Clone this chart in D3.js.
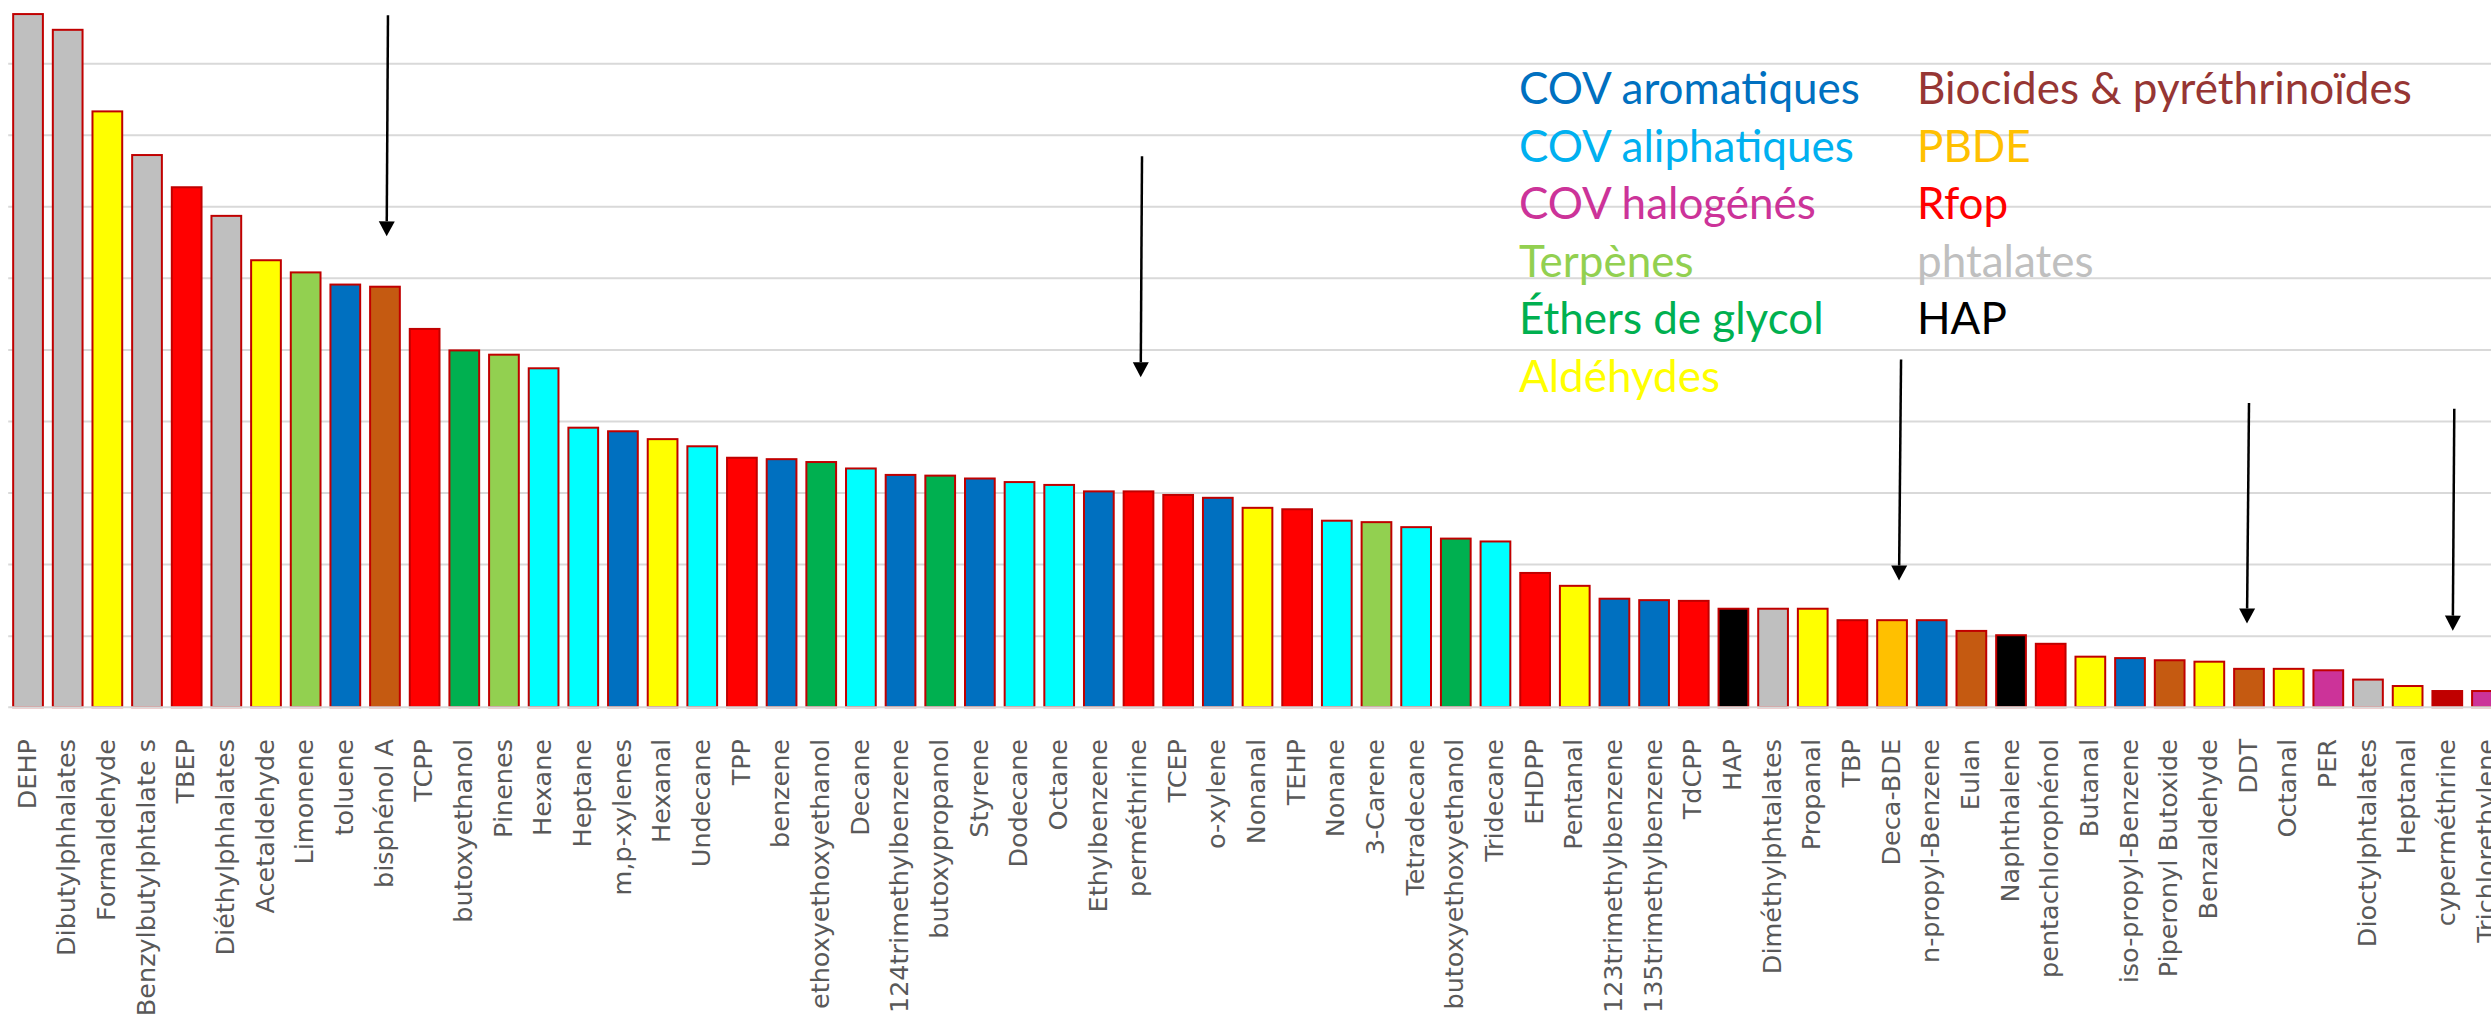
<!DOCTYPE html>
<html>
<head>
<meta charset="utf-8">
<script src="https://cdn.jsdelivr.net/npm/d3@7"></script>
<style>
html, body { margin: 0; padding: 0; background: #ffffff; overflow: hidden; }
</style>
</head>
<body>
<svg id="chart" width="2491" height="1018"></svg>
<script>
// ---------------- DATA ----------------
const categories = [
  "DEHP", "Dibutylphhalates", "Formaldehyde", "Benzylbutylphtalate s", "TBEP",
  "Diéthylphhalates", "Acetaldehyde", "Limonene", "toluene", "bisphénol A",
  "TCPP", "butoxyethanol", "Pinenes", "Hexane", "Heptane",
  "m,p-xylenes", "Hexanal", "Undecane", "TPP", "benzene",
  "ethoxyethoxyethanol", "Decane", "124trimethylbenzene", "butoxypropanol", "Styrene",
  "Dodecane", "Octane", "Ethylbenzene", "perméthrine", "TCEP",
  "o-xylene", "Nonanal", "TEHP", "Nonane", "3-Carene",
  "Tetradecane", "butoxyethoxyethanol", "Tridecane", "EHDPP", "Pentanal",
  "123trimethylbenzene", "135trimethylbenzene", "TdCPP", "HAP", "Diméthylphtalates",
  "Propanal", "TBP", "Deca-BDE", "n-propyl-Benzene", "Eulan",
  "Naphthalene", "pentachlorophénol", "Butanal", "iso-propyl-Benzene", "Piperonyl Butoxide",
  "Benzaldehyde", "DDT", "Octanal", "PER", "Dioctylphtalates",
  "Heptanal", "cyperméthrine", "Trichlorethylene"
];

const values = [
  9.70, 9.48, 8.34, 7.73, 7.28,
  6.88, 6.26, 6.09, 5.92, 5.89,
  5.30, 5.00, 4.94, 4.75, 3.92,
  3.87, 3.76, 3.66, 3.50, 3.48,
  3.44, 3.35, 3.26, 3.25, 3.21,
  3.16, 3.12, 3.03, 3.03, 2.98,
  2.94, 2.80, 2.78, 2.62, 2.60,
  2.53, 2.37, 2.33, 1.89, 1.71,
  1.53, 1.51, 1.50, 1.39, 1.39,
  1.39, 1.23, 1.23, 1.23, 1.08,
  1.02, 0.90, 0.72, 0.70, 0.67,
  0.65, 0.55, 0.55, 0.53, 0.40,
  0.31, 0.24, 0.24
];

const barColors = [
  "#bfbfbf", "#bfbfbf", "#ffff00", "#bfbfbf", "#ff0000",
  "#bfbfbf", "#ffff00", "#92d050", "#0070c0", "#c55a11",
  "#ff0000", "#00b050", "#92d050", "#00ffff", "#00ffff",
  "#0070c0", "#ffff00", "#00ffff", "#ff0000", "#0070c0",
  "#00b050", "#00ffff", "#0070c0", "#00b050", "#0070c0",
  "#00ffff", "#00ffff", "#0070c0", "#ff0000", "#ff0000",
  "#0070c0", "#ffff00", "#ff0000", "#00ffff", "#92d050",
  "#00ffff", "#00b050", "#00ffff", "#ff0000", "#ffff00",
  "#0070c0", "#0070c0", "#ff0000", "#000000", "#bfbfbf",
  "#ffff00", "#ff0000", "#ffc000", "#0070c0", "#c55a11",
  "#000000", "#ff0000", "#ffff00", "#0070c0", "#c55a11",
  "#ffff00", "#c55a11", "#ffff00", "#cc3399", "#bfbfbf",
  "#ffff00", "#c00000", "#cc3399"
];

const gridTicks = [1, 2, 3, 4, 5, 6, 7, 8, 9];

const legendLeftLabels = ["COV aromatiques", "COV aliphatiques", "COV halogénés", "Terpènes", "Éthers de glycol", "Aldéhydes"];
const legendLeftColors = ["#0070c0", "#00b0f0", "#cc3399", "#92d050", "#00b050", "#ffff00"];
const legendRightLabels = ["Biocides & pyréthrinoïdes", "PBDE", "Rfop", "phtalates", "HAP"];
const legendRightColors = ["#963634", "#ffc000", "#ff0000", "#bfbfbf", "#000000"];

// annotation arrows: target category, start and tip levels (value units)
const arrowTargets = ["bisphénol A", "perméthrine", "Deca-BDE", "DDT", "cyperméthrine"];
const arrowFrom = [9.67, 7.70, 4.86, 4.25, 4.17];
const arrowTo = [6.58, 4.61, 1.77, 1.17, 1.07];

// ---------------- LAYOUT ----------------
const W = 2491, H = 1018;
const plotLeft = 8.2;
const step = 39.66;
const baseY = 707.2;
const unitPx = 71.56;
const arrowDx = [[3, 1.7], [3.5, 2.2], [9, 7], [0, -2], [7, 5.5]];

const svg = d3.select("#chart");
svg.append("rect").attr("width", W).attr("height", H).attr("fill", "#ffffff");

const x = d3.scaleBand()
  .domain(categories)
  .range([plotLeft, plotLeft + categories.length * step])
  .paddingInner(0.2)
  .paddingOuter(0.1);

const y = d3.scaleLinear()
  .domain([0, 10])
  .range([baseY, baseY - 10 * unitPx]);

// gridlines
const grid = svg.append("g")
  .attr("transform", `translate(${plotLeft},0)`)
  .call(d3.axisLeft(y).tickValues(gridTicks).tickSize(-(W - plotLeft)).tickFormat(""));
grid.select(".domain").remove();
grid.selectAll("line").attr("stroke", "#d9d9d9").attr("stroke-width", 2);

// bars
svg.append("g").selectAll("rect")
  .data(categories)
  .join("rect")
  .attr("x", d => x(d) + 1)
  .attr("y", (d, i) => y(values[i]) + 1)
  .attr("width", x.bandwidth() - 2)
  .attr("height", (d, i) => y(0) - y(values[i]) - 1)
  .attr("fill", (d, i) => barColors[i])
  .attr("stroke", "#c00000")
  .attr("stroke-width", 2);

// baseline
svg.append("line")
  .attr("x1", plotLeft).attr("x2", W)
  .attr("y1", y(0)).attr("y2", y(0))
  .attr("stroke", "#d9d9d9").attr("stroke-width", 2);

// category labels
const xAxis = svg.append("g")
  .attr("transform", `translate(0,739)`)
  .call(d3.axisBottom(x).tickSize(0).tickPadding(0));
xAxis.select(".domain").remove();
xAxis.selectAll("text")
  .attr("x", 0).attr("y", 0)
  .attr("dy", "0.3em")
  .attr("text-anchor", "end")
  .attr("transform", "rotate(-90)")
  .attr("fill", "#595959")
  .style("font-family", "'DejaVu Sans'")
  .style("font-size", "25.5px");

// arrows
const arrowG = svg.append("g");
arrowTargets.forEach((cat, i) => {
  const cx = x(cat) + x.bandwidth() / 2;
  const x1 = cx + arrowDx[i][0], y1 = y(arrowFrom[i]);
  const x2 = cx + arrowDx[i][1], y2 = y(arrowTo[i]);
  const len = Math.hypot(x2 - x1, y2 - y1);
  const ux = (x2 - x1) / len, uy = (y2 - y1) / len;
  const headL = 15, headW = 8;
  const bx = x2 - ux * headL, by = y2 - uy * headL;
  arrowG.append("line")
    .attr("x1", x1).attr("y1", y1).attr("x2", bx).attr("y2", by)
    .attr("stroke", "#000").attr("stroke-width", 2.5);
  arrowG.append("path")
    .attr("d", `M${x2},${y2} L${bx - uy * headW},${by + ux * headW} L${bx + uy * headW},${by - ux * headW} Z`)
    .attr("fill", "#000");
});

// legend text
const legendRow0 = 104, legendRowStep = 57.6;
const legG = svg.append("g").style("font-family", "Lato").style("font-size", "44px");
legG.selectAll("text.l1")
  .data(legendLeftLabels)
  .join("text")
  .attr("class", "l1")
  .attr("x", 1519)
  .attr("y", (d, i) => legendRow0 + i * legendRowStep)
  .attr("fill", (d, i) => legendLeftColors[i])
  .text(d => d);
legG.selectAll("text.l2")
  .data(legendRightLabels)
  .join("text")
  .attr("class", "l2")
  .attr("x", 1917)
  .attr("y", (d, i) => legendRow0 + i * legendRowStep)
  .attr("fill", (d, i) => legendRightColors[i])
  .text(d => d);
</script>
</body>
</html>
